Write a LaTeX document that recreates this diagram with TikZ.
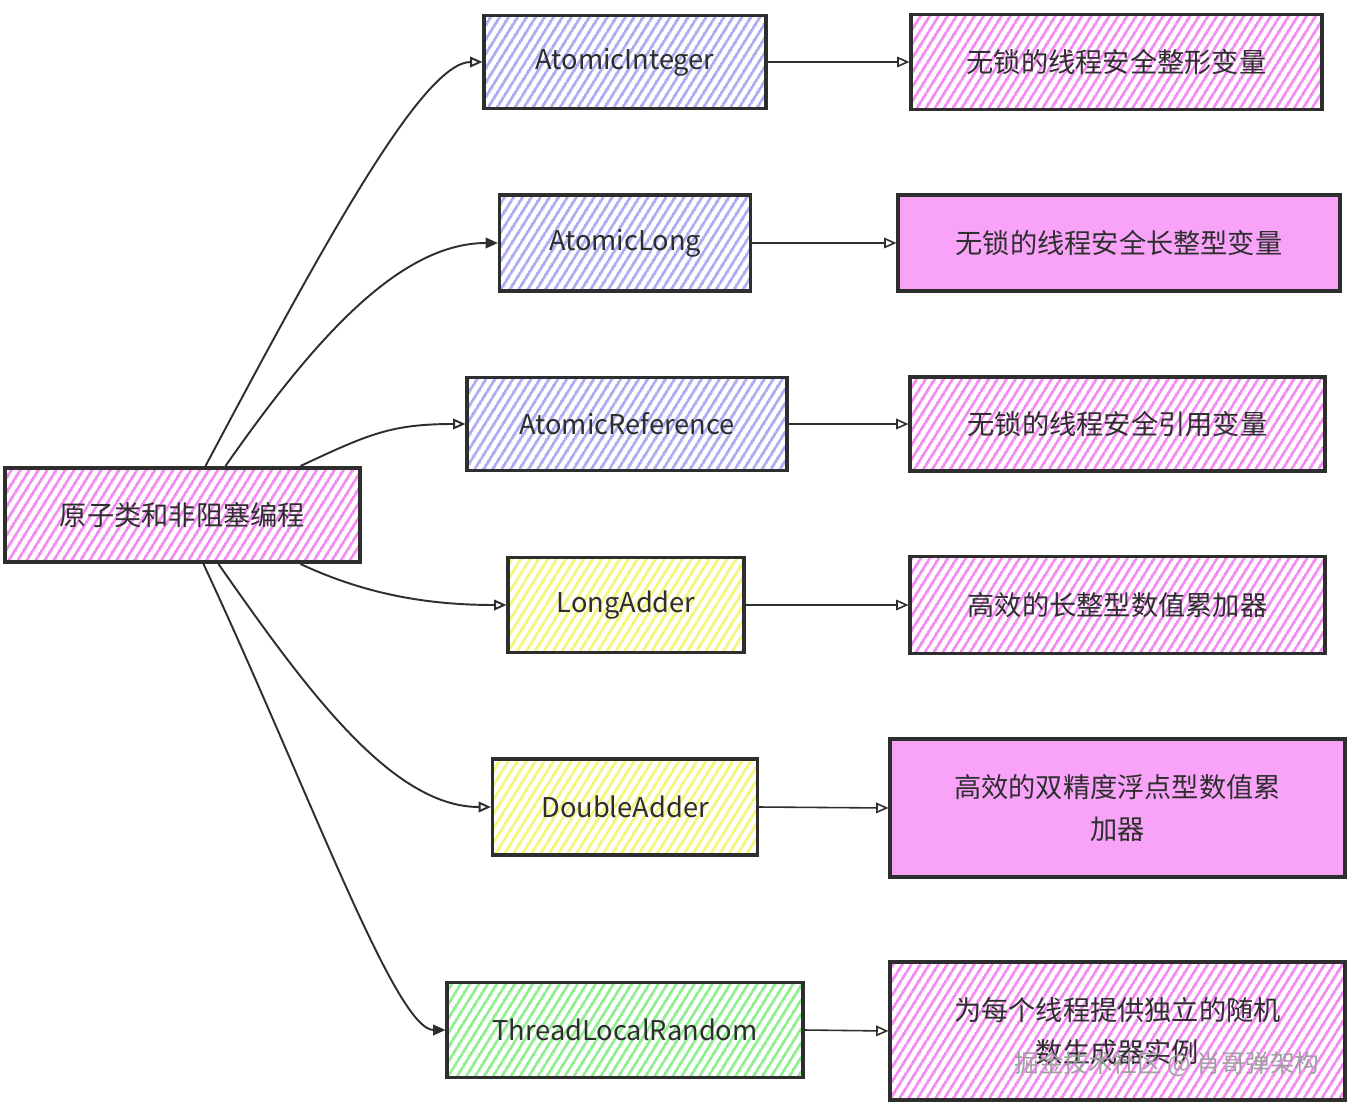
\documentclass[tikz,border=0pt]{standalone}
\usepackage{fontspec}
\usepackage{xcolor}
\usepackage{tikz}
\usetikzlibrary{patterns.meta,arrows.meta}
\setmainfont{Noto Sans CJK SC}

\definecolor{hpink}{HTML}{F38BF3}
\definecolor{spink}{HTML}{F8A3F8}
\definecolor{hblue}{HTML}{ACACF2}
\definecolor{hyellow}{HTML}{F5F57A}
\definecolor{hgreen}{HTML}{8FEF8F}
\definecolor{ink}{HTML}{2E2E2E}

\begin{document}
\begin{tikzpicture}[x=0.02cm, y=-0.02cm,
        box/.style={draw=ink, line width=1.8pt, inner sep=0pt, text=ink,
            font=\fontsize{15.5}{24}\selectfont, align=center},
        hatch/.style={pattern={Lines[angle=58,distance=4pt,line width=1.6pt]}, pattern color=#1},
        arr/.style={draw=ink, line width=0.9pt, -{Triangle[open,length=7pt,width=6pt]}}]
        \useasboundingbox (0,0) rectangle (1351,1108);

        % root
        \node[box, hatch=hpink, minimum width=7.1cm, minimum height=1.88cm, line width=2.3pt] (root) at (182.5,515) {原子类和非阻塞编程};

        % classes
        \node[box, hatch=hblue, minimum width=5.64cm, minimum height=1.86cm] (a1) at (625,62) {AtomicInteger};
        \node[box, hatch=hblue, minimum width=5.02cm, minimum height=1.92cm] (a2) at (625,243) {AtomicLong};
        \node[box, hatch=hblue, minimum width=6.4cm, minimum height=1.86cm] (a3) at (627,424) {AtomicReference};
        \node[box, hatch=hyellow, minimum width=4.72cm, minimum height=1.9cm] (a4) at (626,605) {LongAdder};
        \node[box, hatch=hyellow, minimum width=5.3cm, minimum height=1.92cm] (a5) at (625,807) {DoubleAdder};
        \node[box, hatch=hgreen, minimum width=7.12cm, minimum height=1.9cm] (a6) at (625,1030) {ThreadLocalRandom};

        % descriptions
        \node[box, hatch=hpink, minimum width=8.22cm, minimum height=1.9cm] (b1) at (1116.5,62) {无锁的线程安全整形变量};
        \node[box, fill=spink, minimum width=8.84cm, minimum height=1.92cm] (b2) at (1119,243) {无锁的线程安全长整型变量};
        \node[box, hatch=hpink, minimum width=8.3cm, minimum height=1.88cm] (b3) at (1117.5,424) {无锁的线程安全引用变量};
        \node[box, hatch=hpink, minimum width=8.3cm, minimum height=1.94cm] (b4) at (1117.5,605) {高效的长整型数值累加器};
        \node[box, fill=spink, minimum width=9.1cm, minimum height=2.76cm] (b5) at (1117.5,808) {高效的双精度浮点型数值累\\加器};
        \node[box, hatch=hpink, minimum width=9.1cm, minimum height=2.76cm] (b6) at (1117.5,1031) {为每个线程提供独立的随机\\数生成器实例};

        % root to classes
        \draw[arr, line width=1.1pt] ([xshift=0.46cm]root.north) to[out=62, in=180, out distance=5cm, in distance=1.2cm] (a1.west);
        \draw[arr, line width=1.1pt, -{Triangle[length=7pt,width=6pt]}] ([xshift=0.86cm]root.north) to[out=55, in=180, out distance=3cm, in distance=2cm] (a2.west);
        \draw[arr, line width=1.1pt] ([xshift=2.36cm]root.north) to[out=25, in=180, out distance=1.5cm, in distance=1.5cm] (a3.west);
        \draw[arr, line width=1.1pt] ([xshift=2.36cm]root.south) to[out=-25, in=180, out distance=1.5cm, in distance=1.5cm] (a4.west);
        \draw[arr, line width=1.1pt] ([xshift=0.72cm]root.south) to[out=-55, in=180, out distance=3cm, in distance=2cm] (a5.west);
        \draw[arr, line width=1.1pt, -{Triangle[length=7pt,width=6pt]}] ([xshift=0.42cm]root.south) to[out=-65, in=180, out distance=5cm, in distance=1cm] (a6.west);

        % classes to descriptions
        \draw[arr] (a1.east) -- (b1.west);
        \draw[arr] (a2.east) -- (b2.west);
        \draw[arr] (a3.east) -- (b3.west);
        \draw[arr] (a4.east) -- (b4.west);
        \draw[arr] (a5.east) -- (b5.west);
        \draw[arr] (a6.east) -- (b6.west);

        % watermark
        \node[text=gray!75, font=\fontsize{14}{16}\selectfont] (mark) at (1167,1064) {掘金技术社区 @ 肖哥弹架构};
    \end{tikzpicture}
\end{document}
